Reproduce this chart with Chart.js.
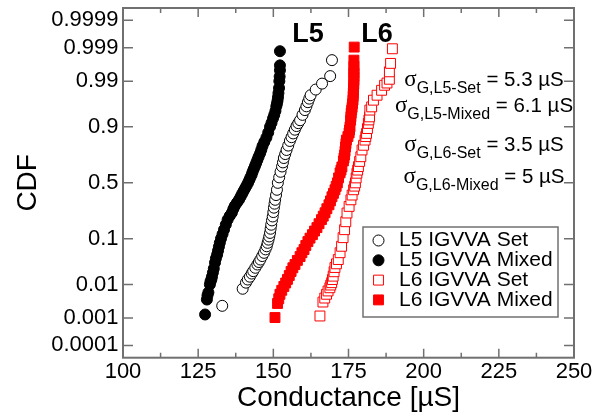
<!DOCTYPE html>
<html>
<head>
<meta charset="utf-8">
<script src="https://cdn.jsdelivr.net/npm/chart.js@4.4.0/dist/chart.umd.min.js"></script>
<style>
  body { margin: 0; background: #fff; }
  canvas { display: block; }
</style>
</head>
<body>
<canvas id="cdfChart" width="611" height="420"></canvas>
<script>
// axis ticks
const xTicks = [100, 125, 150, 175, 200, 225, 250];
const xMinorTicks = [112.5, 137.5, 162.5, 187.5, 212.5, 237.5];
const yTickLabels = ['0.0001', '0.001', '0.01', '0.1', '0.5', '0.9', '0.99', '0.999', '0.9999'];

// series (conductance in uS, cumulative probability)
const seriesNames = ['L5 IGVVA Set', 'L5 IGVVA Mixed', 'L6 IGVVA Set', 'L6 IGVVA Mixed'];

const l5SetG = [133.0, 139.8, 140.9, 141.5, 142.2, 142.8, 143.3, 144.0, 144.7, 145.2,
  145.7, 146.3, 146.9, 147.4, 147.8, 148.1, 148.4, 148.65, 148.9, 149.1,
  149.3, 149.55, 149.8, 150.0, 150.2, 150.4, 150.6, 150.9, 151.2, 151.5,
  151.95, 152.4, 152.9, 153.2, 153.5, 153.95, 154.4, 154.95, 155.5, 156.05,
  156.6, 157.15, 157.7, 158.3, 158.9, 159.7, 160.5, 161.0, 161.5, 161.95,
  162.4, 164.1, 166.2, 168.9, 169.5];
const l5SetCdf = [0.00245, 0.0077, 0.0112, 0.0135, 0.0159, 0.019, 0.0217, 0.026, 0.0309, 0.035,
  0.0397, 0.047, 0.0547, 0.064, 0.0734, 0.085, 0.097, 0.11, 0.126, 0.147,
  0.169, 0.195, 0.221, 0.252, 0.285, 0.317, 0.349, 0.39, 0.437, 0.5,
  0.55, 0.6, 0.646, 0.68, 0.715, 0.745, 0.774, 0.803, 0.831, 0.852,
  0.871, 0.888, 0.903, 0.914, 0.924, 0.94, 0.952, 0.96, 0.9675, 0.973,
  0.9775, 0.9836, 0.9884, 0.9927, 0.9975];

const l5MixedG = [127.3, 127.9, 128.1, 128.4, 128.9, 129.1, 129.4, 129.6, 129.9, 130.2,
  130.6, 130.9, 131.3, 131.6, 131.9, 132.2, 132.6, 133.1, 133.6, 134.2,
  134.8, 135.5, 136.2, 136.7, 137.2, 137.9, 138.6, 139.1, 139.6, 140.1,
  140.6, 141.1, 141.6, 142.0, 142.4, 142.8, 143.1, 143.5, 143.9, 144.3,
  144.7, 145.1, 145.6, 146.0, 146.4, 147.0, 147.7, 148.3, 148.9, 149.4,
  149.9, 150.3, 150.7, 151.0, 151.2, 151.4, 151.55, 151.7, 151.9, 152.0,
  152.1, 152.2, 152.2, 152.2];
const l5MixedCdf = [0.0013, 0.0038, 0.005, 0.0061, 0.01, 0.012, 0.0136, 0.016, 0.02, 0.025,
  0.034, 0.042, 0.05, 0.06, 0.072, 0.085, 0.101, 0.12, 0.142, 0.17,
  0.20, 0.225, 0.247, 0.275, 0.30, 0.325, 0.35, 0.375, 0.40, 0.425,
  0.45, 0.475, 0.50, 0.525, 0.55, 0.575, 0.60, 0.625, 0.65, 0.675,
  0.70, 0.725, 0.75, 0.775, 0.80, 0.825, 0.85, 0.875, 0.90, 0.915,
  0.93, 0.94, 0.95, 0.96, 0.965, 0.97, 0.975, 0.98, 0.985, 0.99,
  0.9925, 0.995, 0.9964, 0.9987];

const l6SetG = [165.5, 166.5, 167.1, 167.7, 168.2, 168.8, 169.1, 169.4, 169.65, 169.9,
  170.2, 170.5, 171.0, 171.6, 172.2, 172.7, 173.2, 173.7, 174.1, 174.5,
  175.2, 175.8, 176.2, 176.7, 177.05, 177.3, 177.55, 177.8, 178.05, 178.3,
  178.7, 179.1, 179.5, 180.0, 180.5, 180.75, 181.0, 181.3, 181.6, 181.8,
  182.0, 182.1, 182.7, 183.3, 184.5, 186.0, 187.0, 187.8, 188.6, 188.6,
  189.0, 189.6];
const l6SetCdf = [0.00116, 0.0032, 0.0042, 0.0054, 0.0067, 0.0082, 0.0097, 0.0112, 0.0135, 0.0164,
  0.021, 0.0264, 0.032, 0.0397, 0.055, 0.0734, 0.105, 0.142, 0.187, 0.245,
  0.295, 0.349, 0.39, 0.437, 0.47, 0.5, 0.545, 0.587, 0.615, 0.645,
  0.688, 0.725, 0.774, 0.805, 0.836, 0.855, 0.871, 0.893, 0.913, 0.925,
  0.9345, 0.952, 0.9589, 0.9707, 0.9775, 0.9829, 0.9872, 0.9888, 0.9911, 0.99446,
  0.99686, 0.99892];

const l6MixedG = [150.55, 151.4, 151.8, 152.2, 152.8, 153.5, 154.1, 154.7, 155.3, 155.9,
  156.5, 157.2, 158.0, 158.9, 159.5, 160.2, 160.8, 161.5, 162.2, 163.0,
  163.7, 164.5, 165.2, 166.0, 166.6, 167.2, 167.8, 168.5, 169.0, 169.5,
  170.0, 170.5, 170.9, 171.3, 171.7, 172.2, 172.5, 172.8, 173.3, 173.5,
  173.7, 173.85, 174.0, 174.15, 174.3, 174.8, 175.2, 175.35, 175.5, 175.7,
  175.8, 175.9, 176.05, 176.2, 176.35, 176.5, 176.55, 176.6, 176.65, 176.7,
  176.75, 176.8, 176.8, 176.8, 176.8, 176.8, 176.8, 176.9];
const l6MixedCdf = [0.00103, 0.0029, 0.004, 0.0054, 0.007, 0.0089, 0.011, 0.0136, 0.017, 0.0213,
  0.026, 0.0309, 0.038, 0.0459, 0.055, 0.0635, 0.076, 0.0895, 0.103, 0.118,
  0.135, 0.153, 0.175, 0.20, 0.223, 0.247, 0.277, 0.308, 0.34, 0.375,
  0.405, 0.437, 0.468, 0.5, 0.545, 0.59, 0.615, 0.642, 0.692, 0.715,
  0.738, 0.765, 0.794, 0.815, 0.836, 0.855, 0.873, 0.887, 0.90, 0.924,
  0.935, 0.9446, 0.952, 0.958, 0.965, 0.9707, 0.976, 0.98, 0.983, 0.9856,
  0.988, 0.9905, 0.9925, 0.9939, 0.995, 0.9962, 0.9975, 0.99905];

// sigma annotations
const sigmaSubs = ['G,L5-Set', 'G,L5-Mixed', 'G,L6-Set', 'G,L6-Mixed'];
const sigmaValues = ['5.3', '6.1', '3.5', '5'];

// inverse normal CDF (Acklam), used to place probabilities on the probability axis
function probit(p) {
  const a = [-3.969683028665376e+01, 2.209460984245205e+02, -2.759285104469687e+02, 1.383577518672690e+02, -3.066479806614716e+01, 2.506628277459239e+00];
  const b = [-5.447609879822406e+01, 1.615858368580409e+02, -1.556989798598866e+02, 6.680131188771972e+01, -1.328068155288572e+01];
  const c = [-7.784894002430293e-03, -3.223964580411365e-01, -2.400758277161838e+00, -2.549732539343734e+00, 4.374664141464968e+00, 2.938163982698783e+00];
  const d = [7.784695709041462e-03, 3.224671290700398e-01, 2.445134137142996e+00, 3.754408661907416e+00];
  const pl = 0.02425;
  let q, r;
  if (p < pl) {
    q = Math.sqrt(-2 * Math.log(p));
    return (((((c[0] * q + c[1]) * q + c[2]) * q + c[3]) * q + c[4]) * q + c[5]) / ((((d[0] * q + d[1]) * q + d[2]) * q + d[3]) * q + 1);
  }
  if (p <= 1 - pl) {
    q = p - 0.5; r = q * q;
    return (((((a[0] * r + a[1]) * r + a[2]) * r + a[3]) * r + a[4]) * r + a[5]) * q / (((((b[0] * r + b[1]) * r + b[2]) * r + b[3]) * r + b[4]) * r + 1);
  }
  q = Math.sqrt(-2 * Math.log(1 - p));
  return -(((((c[0] * q + c[1]) * q + c[2]) * q + c[3]) * q + c[4]) * q + c[5]) / ((((d[0] * q + d[1]) * q + d[2]) * q + d[3]) * q + 1);
}

const toPoints = (g, cdf) => g.map((v, i) => ({ x: v, y: probit(cdf[i]) }));

const markers = [
  { style: 'circle', radius: 5.5, fill: '#ffffff', stroke: '#000000' },
  { style: 'circle', radius: 5.5, fill: '#000000', stroke: '#000000' },
  { style: 'rect', radius: 7, fill: '#ffffff', stroke: '#ff0000' },
  { style: 'rect', radius: 7, fill: '#ff0000', stroke: '#ff0000' }
];
const seriesData = [
  toPoints(l5SetG, l5SetCdf),
  toPoints(l5MixedG, l5MixedCdf),
  toPoints(l6SetG, l6SetCdf),
  toPoints(l6MixedG, l6MixedCdf)
];

const FONT = '"Liberation Sans", Arial, Helvetica, sans-serif';
const FRAME = '#707070';

function drawMarker(ctx, m, x, y) {
  ctx.fillStyle = m.fill;
  ctx.strokeStyle = m.stroke;
  ctx.lineWidth = 1;
  ctx.beginPath();
  if (m.style === 'circle') {
    ctx.arc(x, y, m.radius, 0, Math.PI * 2);
  } else {
    const s = m.radius * Math.SQRT1_2;
    ctx.rect(x - s, y - s, 2 * s, 2 * s);
  }
  ctx.fill();
  ctx.stroke();
}

const overlay = {
  id: 'overlay',
  afterDraw(chart) {
    const { ctx, chartArea: a, scales: { x, y } } = chart;
    ctx.save();

    // inward ticks on all four sides
    ctx.strokeStyle = FRAME;
    ctx.lineWidth = 1.5;
    ctx.beginPath();
    xTicks.forEach(v => {
      const px = x.getPixelForValue(v);
      ctx.moveTo(px, a.bottom); ctx.lineTo(px, a.bottom - 9);
      ctx.moveTo(px, a.top); ctx.lineTo(px, a.top + 9);
    });
    xMinorTicks.forEach(v => {
      const px = x.getPixelForValue(v);
      ctx.moveTo(px, a.bottom); ctx.lineTo(px, a.bottom - 5);
      ctx.moveTo(px, a.top); ctx.lineTo(px, a.top + 5);
    });
    yTickLabels.forEach(l => {
      const py = y.getPixelForValue(probit(parseFloat(l)));
      ctx.moveTo(a.left, py); ctx.lineTo(a.left + 10, py);
      ctx.moveTo(a.right, py); ctx.lineTo(a.right - 10, py);
    });
    ctx.stroke();
    ctx.lineWidth = 2;
    ctx.strokeRect(a.left, a.top, a.right - a.left, a.bottom - a.top);

    // legend box
    const lx = 363, ly = 227, lw = 195, lh = 90;
    ctx.fillStyle = '#ffffff';
    ctx.fillRect(lx, ly, lw, lh);
    ctx.strokeStyle = FRAME;
    ctx.lineWidth = 1.5;
    ctx.strokeRect(lx, ly, lw, lh);
    ctx.font = '21px ' + FONT;
    ctx.textBaseline = 'middle';
    ctx.textAlign = 'left';
    seriesNames.forEach((name, i) => {
      const ry = 240.5 + i * 19.8;
      drawMarker(ctx, markers[i], 378.5, ry);
      ctx.fillStyle = '#000';
      ctx.fillText(name, 399, ry);
    });

    // L5 / L6 labels
    ctx.fillStyle = '#000';
    ctx.font = 'bold 27px ' + FONT;
    ctx.textAlign = 'center';
    ctx.textBaseline = 'alphabetic';
    ctx.fillText('L5', 308, 41.5);
    ctx.fillText('L6', 377, 41.5);

    // sigma annotations
    const baselines = [85.5, 112, 150.7, 182.5];
    sigmaSubs.forEach((sub, i) => {
      const rest = ' = ' + sigmaValues[i] + ' \u00b5S';
      ctx.font = '23px "Liberation Serif", serif';
      const w1 = ctx.measureText('\u03c3').width;
      ctx.font = '16px ' + FONT;
      const w2 = ctx.measureText(sub).width;
      ctx.font = '20.5px ' + FONT;
      const w3 = ctx.measureText(rest).width;
      let sx = 484 - (w1 + w2 + w3) / 2;
      const by = baselines[i];
      ctx.textAlign = 'left';
      ctx.font = '23px "Liberation Serif", serif';
      ctx.fillText('\u03c3', sx, by);
      sx += w1;
      ctx.font = '16px ' + FONT;
      ctx.fillText(sub, sx, by + 7);
      sx += w2;
      ctx.font = '20.5px ' + FONT;
      ctx.fillText(rest, sx, by);
    });

    ctx.restore();
  }
};

new Chart(document.getElementById('cdfChart'), {
  type: 'scatter',
  data: {
    datasets: seriesNames.map((name, i) => ({
      label: name,
      data: seriesData[i],
      pointStyle: markers[i].style,
      pointRadius: markers[i].radius,
      pointHoverRadius: markers[i].radius,
      pointBackgroundColor: markers[i].fill,
      pointBorderColor: markers[i].stroke,
      pointBorderWidth: 1,
      showLine: false
    }))
  },
  options: {
    responsive: false,
    animation: false,
    devicePixelRatio: 1,
    layout: { padding: { top: 7.5, right: 37, left: 0, bottom: 0 } },
    plugins: { legend: { display: false }, tooltip: { enabled: false } },
    scales: {
      x: {
        type: 'linear',
        min: 100,
        max: 250,
        afterBuildTicks: axis => { axis.ticks = xTicks.map(v => ({ value: v })); },
        afterFit: s => { s.height = 62.3; s.paddingLeft = 0; s.paddingRight = 0; },
        grid: { display: false, drawTicks: false },
        border: { display: false },
        ticks: { color: '#000', font: { family: FONT, size: 22, lineHeight: 1.2 }, padding: 1.5, maxRotation: 0, autoSkip: false },
        title: { display: true, text: 'Conductance [\u00b5S]', color: '#000', font: { family: FONT, size: 28, lineHeight: 1.2 }, padding: { top: 0, bottom: 5 } }
      },
      y: {
        type: 'linear',
        min: -4,
        max: 4,
        afterBuildTicks: axis => { axis.ticks = yTickLabels.map(l => ({ value: probit(parseFloat(l)) })); },
        afterFit: s => { s.width = 123; s.paddingTop = 0; s.paddingBottom = 0; },
        grid: { display: false, drawTicks: false },
        border: { display: false },
        ticks: { color: '#000', font: { family: FONT, size: 22, lineHeight: 1.2 }, padding: 4.5, autoSkip: false, callback: (v, i) => yTickLabels[i] },
        title: { display: true, text: 'CDF', color: '#000', font: { family: FONT, size: 28, lineHeight: 1.2 }, padding: { top: 11, bottom: 0 } }
      }
    }
  },
  plugins: [overlay]
});
</script>
</body>
</html>
